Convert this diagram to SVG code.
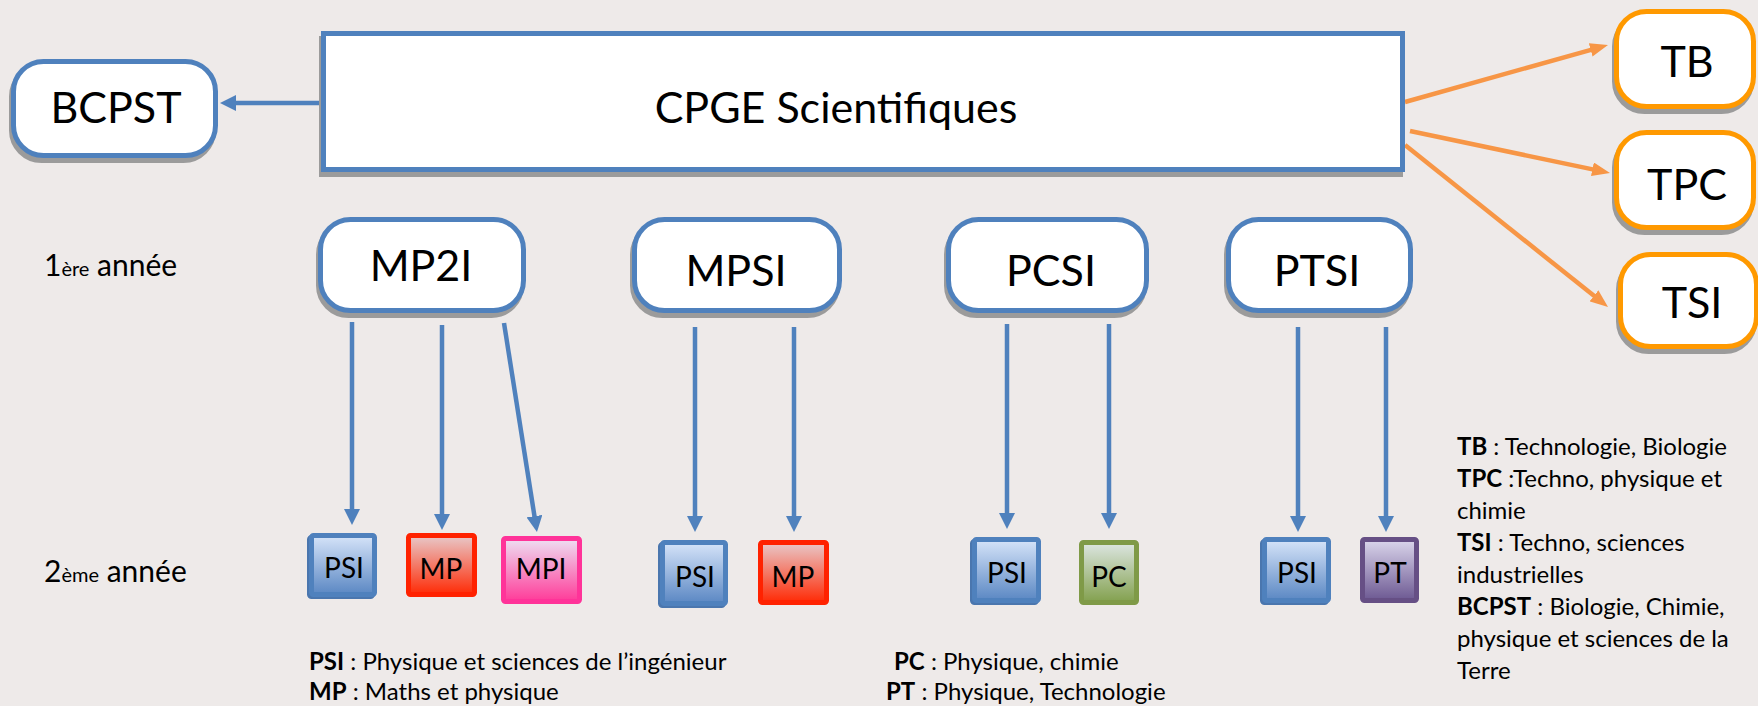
<svg xmlns="http://www.w3.org/2000/svg" width="1758" height="706" viewBox="0 0 1758 706">
<style>
.t{font-family:Lato,"Open Sans","Liberation Sans",sans-serif;fill:#000}
.big{font-size:43px}
.sm{font-size:28px}
.leg{font-size:24px}
.b{font-weight:bold}
.box{fill:#fff;stroke:#4F81BD;stroke-width:5}
.obox{fill:#fff;stroke:#FF9900;stroke-width:5}
.shd{fill:#9b9b9b;stroke:#9b9b9b;stroke-width:5}
.bl{stroke:#4F81BD;stroke-width:4.5;fill:none;marker-end:url(#ab)}
.or{stroke:#F79646;stroke-width:4.5;fill:none;marker-end:url(#ao)}
.psi{fill:url(#gPSI);stroke:#4F81BD;stroke-width:5}
.mp{fill:url(#gMP);stroke:#FF2200;stroke-width:5}
.mpi{fill:url(#gMPI);stroke:#FF3399;stroke-width:5}
.pc{fill:url(#gPC);stroke:#7F9A47;stroke-width:5}
.pt{fill:url(#gPT);stroke:#664F85;stroke-width:5}
.psish{fill:#4F81BD;stroke:#4A76AE;stroke-width:5}
</style>
<defs>
<marker id="ab" viewBox="0 0 16 16" refX="4" refY="8" markerWidth="16" markerHeight="16" markerUnits="userSpaceOnUse" orient="auto"><path d="M0,0 L16,8 L0,16 z" fill="#4F81BD"/></marker>
<marker id="ao" viewBox="0 0 18 14" refX="4" refY="7" markerWidth="18" markerHeight="14" markerUnits="userSpaceOnUse" orient="auto"><path d="M0,0 L18,7 L0,14 z" fill="#F79646"/></marker>
<linearGradient id="gPSI" x1="0" y1="0" x2="0" y2="1"><stop offset="0" stop-color="#D6E4F9"/><stop offset="1" stop-color="#5A87C3"/></linearGradient>
<linearGradient id="gMP" x1="0" y1="0" x2="0" y2="1"><stop offset="0" stop-color="#E8C9CA"/><stop offset="1" stop-color="#FF2A05"/></linearGradient>
<linearGradient id="gMPI" x1="0" y1="0" x2="0" y2="1"><stop offset="0" stop-color="#EEDFF3"/><stop offset="1" stop-color="#FF3A98"/></linearGradient>
<linearGradient id="gPC" x1="0" y1="0" x2="0" y2="1"><stop offset="0" stop-color="#DDE6E2"/><stop offset="1" stop-color="#82A04D"/></linearGradient>
<linearGradient id="gPT" x1="0" y1="0" x2="0" y2="1"><stop offset="0" stop-color="#DBD6EC"/><stop offset="1" stop-color="#6C5892"/></linearGradient>
</defs>
<rect x="0" y="0" width="1758" height="706" fill="#EEEAE9"/>

<g id="connectors">
<line class="bl" x1="321" y1="103" x2="232" y2="103"/>
<line class="or" x1="1405" y1="102" x2="1594.5" y2="48.8"/>
<line class="or" x1="1410" y1="131" x2="1596.3" y2="170.1"/>
<line class="or" x1="1405" y1="145" x2="1597.1" y2="298.3"/>
<line class="bl" x1="352" y1="322" x2="352" y2="513"/>
<line class="bl" x1="442" y1="325" x2="442" y2="518"/>
<line class="bl" x1="504" y1="323" x2="535.1" y2="520.1"/>
<line class="bl" x1="695" y1="327" x2="695" y2="520"/>
<line class="bl" x1="794" y1="327" x2="794" y2="520"/>
<line class="bl" x1="1007" y1="324" x2="1007" y2="517"/>
<line class="bl" x1="1109" y1="324" x2="1109" y2="517"/>
<line class="bl" x1="1298" y1="327" x2="1298" y2="520"/>
<line class="bl" x1="1386" y1="327" x2="1386" y2="520"/>
</g>

<g id="cpge">
<rect class="shd" x="321.5" y="38.5" width="1079" height="136"/>
<rect class="box" x="323.5" y="33.5" width="1079" height="136"/>
<text class="t big" x="836" y="123" text-anchor="middle">CPGE Scientifiques</text>
</g>
<g id="bcpst">
<rect class="shd" x="11.5" y="66.5" width="202" height="94" rx="30"/>
<rect class="box" x="13.5" y="61.5" width="202" height="94" rx="30"/>
<text class="t big" x="116" y="123" text-anchor="middle">BCPST</text>
</g>
<g id="tb">
<rect class="shd" x="1614.5" y="16.5" width="137" height="95" rx="30"/>
<rect class="obox" x="1616.5" y="11.5" width="137" height="95" rx="30"/>
<text class="t big" x="1687" y="77" text-anchor="middle">TB</text>
</g>
<g id="tpc">
<rect class="shd" x="1614.5" y="137.5" width="137" height="95" rx="30"/>
<rect class="obox" x="1616.5" y="132.5" width="137" height="95" rx="30"/>
<text class="t big" x="1687" y="200" text-anchor="middle">TPC</text>
</g>
<g id="tsi">
<rect class="shd" x="1618.5" y="259.5" width="136" height="92" rx="30"/>
<rect class="obox" x="1620.5" y="254.5" width="136" height="92" rx="30"/>
<text class="t big" x="1692" y="318" text-anchor="middle">TSI</text>
</g>

<g id="mp2i">
<rect class="shd" x="318.5" y="224.5" width="203" height="91" rx="30"/>
<rect class="box" x="320.5" y="219.5" width="203" height="91" rx="30"/>
<text class="t big" x="421" y="281" text-anchor="middle">MP2I</text>
</g>
<g id="mpsi">
<rect class="shd" x="632.5" y="224.5" width="205" height="91" rx="30"/>
<rect class="box" x="634.5" y="219.5" width="205" height="91" rx="30"/>
<text class="t big" x="736" y="286" text-anchor="middle">MPSI</text>
</g>
<g id="pcsi">
<rect class="shd" x="946.5" y="224.5" width="198" height="91" rx="30"/>
<rect class="box" x="948.5" y="219.5" width="198" height="91" rx="30"/>
<text class="t big" x="1051" y="286" text-anchor="middle">PCSI</text>
</g>
<g id="ptsi">
<rect class="shd" x="1226.5" y="224.5" width="182" height="91" rx="30"/>
<rect class="box" x="1228.5" y="219.5" width="182" height="91" rx="30"/>
<text class="t big" x="1317" y="286" text-anchor="middle">PTSI</text>
</g>

<g id="psi1">
<rect class="psish" x="309.5" y="537.5" width="63" height="59" rx="2"/>
<rect class="psi" x="311.5" y="535.5" width="63" height="59" rx="2"/>
<text class="t sm" x="344" y="578" text-anchor="middle">PSI</text>
</g>
<g id="mp1">
<rect class="mp" x="408.5" y="535.5" width="66" height="59" rx="2"/>
<text class="t sm" x="441" y="579" text-anchor="middle">MP</text>
</g>
<g id="mpi">
<rect class="mpi" x="503.5" y="538.5" width="76" height="63" rx="2"/>
<text class="t sm" x="541" y="579" text-anchor="middle">MPI</text>
</g>
<g id="psi2">
<rect class="psish" x="660.5" y="544.5" width="63" height="61" rx="2"/>
<rect class="psi" x="662.5" y="542.5" width="63" height="61" rx="2"/>
<text class="t sm" x="695" y="587" text-anchor="middle">PSI</text>
</g>
<g id="mp2">
<rect class="mp" x="760.5" y="542.5" width="66" height="60" rx="2"/>
<text class="t sm" x="793" y="587" text-anchor="middle">MP</text>
</g>
<g id="psi3">
<rect class="psish" x="972.5" y="541.5" width="64" height="61" rx="2"/>
<rect class="psi" x="974.5" y="539.5" width="64" height="61" rx="2"/>
<text class="t sm" x="1007" y="583" text-anchor="middle">PSI</text>
</g>
<g id="pc">
<rect class="pc" x="1081.5" y="542.5" width="55" height="60" rx="2"/>
<text class="t sm" x="1109" y="587" text-anchor="middle">PC</text>
</g>
<g id="psi4">
<rect class="psish" x="1262.5" y="541.5" width="64" height="61" rx="2"/>
<rect class="psi" x="1264.5" y="539.5" width="64" height="61" rx="2"/>
<text class="t sm" x="1297" y="583" text-anchor="middle">PSI</text>
</g>
<g id="pt">
<rect class="pt" x="1362.5" y="539.5" width="54" height="61" rx="2"/>
<text class="t sm" x="1390" y="583" text-anchor="middle">PT</text>
</g>

<g id="labels">
<text class="t" x="44" y="276" font-size="30">1<tspan font-size="20">ère</tspan> année</text>
<text class="t" x="44" y="582" font-size="30">2<tspan font-size="20">ème</tspan> année</text>
</g>

<g id="legend-bottom">
<text class="t leg" x="309" y="670"><tspan class="b">PSI</tspan> : Physique et sciences de l’ingénieur</text>
<text class="t leg" x="309" y="700"><tspan class="b">MP</tspan> : Maths et physique</text>
<text class="t leg" x="894" y="670"><tspan class="b">PC</tspan> : Physique, chimie</text>
<text class="t leg" x="886" y="700"><tspan class="b">PT</tspan> : Physique, Technologie</text>
</g>
<g id="legend-right">
<text class="t leg" x="1457" y="455"><tspan class="b">TB</tspan> : Technologie, Biologie</text>
<text class="t leg" x="1457" y="487"><tspan class="b">TPC</tspan> :Techno, physique et</text>
<text class="t leg" x="1457" y="519">chimie</text>
<text class="t leg" x="1457" y="551"><tspan class="b">TSI</tspan> : Techno, sciences</text>
<text class="t leg" x="1457" y="583">industrielles</text>
<text class="t leg" x="1457" y="615"><tspan class="b">BCPST</tspan> : Biologie, Chimie,</text>
<text class="t leg" x="1457" y="647">physique et sciences de la</text>
<text class="t leg" x="1457" y="679">Terre</text>
</g>
</svg>
